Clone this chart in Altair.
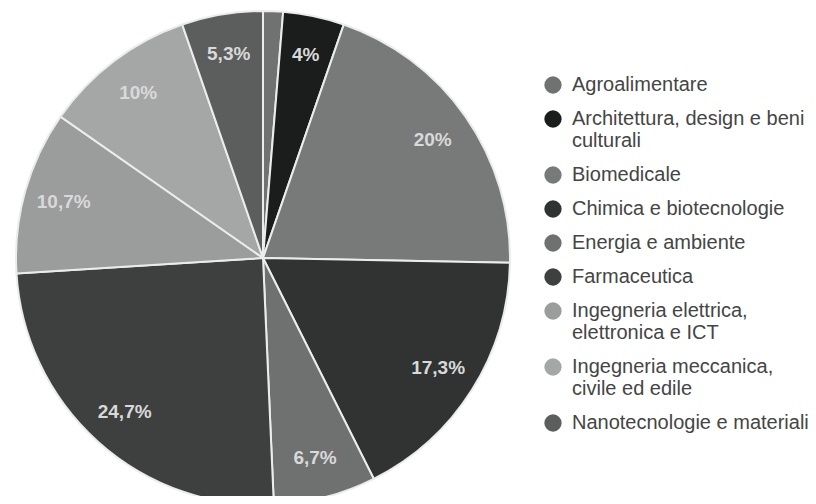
import altair as alt
import pandas as pd

categories = [
    "Agroalimentare",
    "Architettura, design e beni culturali",
    "Biomedicale",
    "Chimica e biotecnologie",
    "Energia e ambiente",
    "Farmaceutica",
    "Ingegneria elettrica, elettronica e ICT",
    "Ingegneria meccanica, civile ed edile",
    "Nanotecnologie e materiali",
]
values = [1.3, 4.0, 20.0, 17.3, 6.7, 24.7, 10.7, 10.0, 5.3]
labels = ["", "4%", "20%", "17,3%", "6,7%", "24,7%", "10,7%", "10%", "5,3%"]
colors = ["#6f7271", "#1b1d1d", "#777a79", "#303332", "#6e7170",
          "#3d403f", "#9a9d9c", "#a4a7a6", "#5b5e5d"]

df = pd.DataFrame({
    "cat": categories,
    "val": values,
    "lab": labels,
    "idx": list(range(len(categories))),
})

cx, cy = 255, 250

base = alt.Chart(df).encode(
    theta=alt.Theta("val:Q", stack=True),
    order=alt.Order("idx:Q"),
)

pie = base.mark_arc(outerRadius=247, stroke="#ececec", strokeWidth=2).encode(
    x=alt.value(cx),
    y=alt.value(cy),
    color=alt.Color(
        "cat:N",
        scale=alt.Scale(domain=categories, range=colors),
        sort=categories,
        legend=alt.Legend(
            title=None,
            orient="none",
            legendX=535,
            legendY=67,
            symbolType="circle",
            symbolSize=300,
            symbolStrokeWidth=0,
            labelFont="Liberation Sans",
            labelFontSize=20,
            labelColor="#454545",
            labelLimit=300,
            labelOffset=9,
            rowPadding=14,
            labelExpr="datum.label == 'Architettura, design e beni culturali' ? ['Architettura, design e beni', 'culturali'] : datum.label == 'Ingegneria elettrica, elettronica e ICT' ? ['Ingegneria elettrica,', 'elettronica e ICT'] : datum.label == 'Ingegneria meccanica, civile ed edile' ? ['Ingegneria meccanica,', 'civile ed edile'] : datum.label",
        ),
    ),
)

text = base.mark_text(
    radius=207, font="Liberation Sans", fontSize=19, fontWeight="bold",
    color="#d9d9d9",
).encode(
    x=alt.value(cx),
    y=alt.value(cy),
    text="lab:N",
)

chart = (pie + text).properties(
    width=800, height=488, autosize=alt.AutoSizeParams(type="none"), padding=0
).configure_view(stroke=None)

chart.save("out.html", embed_options={"renderer": "svg", "actions": False})
